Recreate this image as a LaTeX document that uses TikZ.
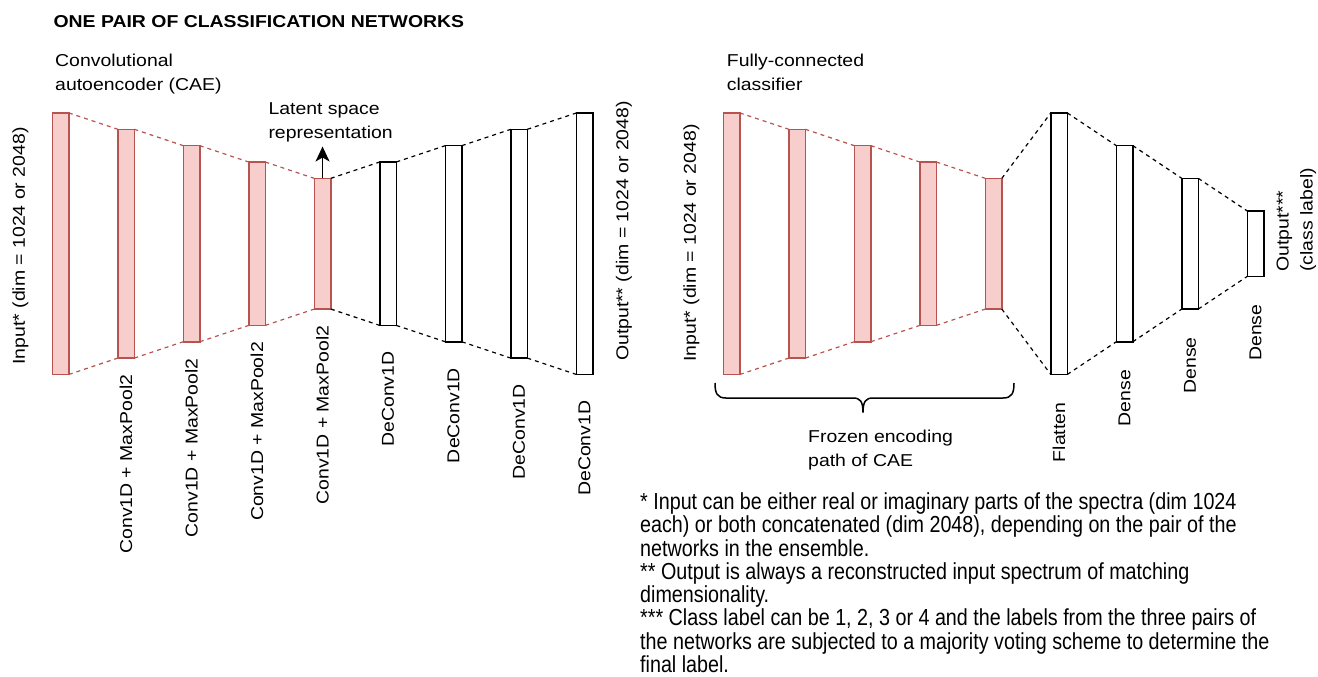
\documentclass[tikz,border=0pt]{standalone}
\usepackage{fontspec}
\setmainfont{Liberation Sans}[FakeStretch=1.13]
\newfontfamily\notefont{Liberation Sans}[FakeStretch=0.85]
\usetikzlibrary{arrows.meta}
\definecolor{encfill}{HTML}{F8CECC}
\definecolor{encline}{HTML}{B85450}
\newcommand\lbl{\fontsize{17.2}{24}\selectfont}
\newcommand\notesize{\fontsize{23.2}{23.3}\selectfont}
\tikzset{
  layer/.style={rectangle, draw=black, line width=1.5pt, minimum width=16.5pt,
    inner sep=0pt, outer sep=0pt, fill=white},
  enc/.style={layer, draw=encline, fill=encfill},
  link/.style={dash pattern=on 4pt off 4pt, line width=1.2pt},
  enclink/.style={link, draw=encline},
  declink/.style={link, draw=black},
  vlabel/.style={rotate=90, inner sep=0pt, font=\lbl},
  % multi-line captions are placed by the baseline of their last line
  txt/.style={inner sep=0pt, font=\lbl, align=left, anchor=base west},
}
\begin{document}
\begin{tikzpicture}[x=1pt,y=-1pt]
\useasboundingbox (0,0) rectangle (1318,677);

% title and group captions
\node[txt, font=\lbl\bfseries] (title) at (53.3,27.3) {ONE PAIR OF CLASSIFICATION NETWORKS};
\node[txt] (caecap) at (55,90.2) {Convolutional\\autoencoder (CAE)};
\node[txt] (fccap) at (726.7,90.7) {Fully-connected\\classifier};
\node[txt] (latcap) at (268.3,138.5) {Latent space\\representation};

% ---- convolutional autoencoder ----
\foreach \i/\h in {1/261.5,2/228.8,3/196.1,4/163.4,5/130.7}
  \node[enc, minimum height=\h pt] (e\i) at ({60.55+65.5*(\i-1)},243.7) {};
\foreach \i/\h in {1/163.4,2/196.1,3/228.8,4/261.5}
  \node[layer, minimum height=\h pt] (d\i) at ({388.05+65.5*(\i-1)},243.7) {};

\foreach \a/\b in {e1/e2,e2/e3,e3/e4,e4/e5} {
  \draw[enclink] (\a.north east) -- (\b.north west);
  \draw[enclink] (\a.south east) -- (\b.south west);
}
\foreach \a/\b in {e5/d1,d1/d2,d2/d3,d3/d4} {
  \draw[declink] (\a.north east) -- (\b.north west);
  \draw[declink] (\a.south east) -- (\b.south west);
}

\coordinate (lat) at (322.55,146.5);
\draw[line width=1.5pt, -{Stealth[length=15pt,width=14pt,inset=4pt]}] (e5.north) -- (lat);

\node[vlabel] (inA) at (20.5,246) {Input* (dim = 1024 or 2048)};
\node[vlabel] (outA) at (624,231) {Output** (dim = 1024 or 2048)};

\foreach \i in {2,3,4,5}
  \node[vlabel, anchor=east] (lc\i) at ([yshift=-16.5pt]e\i.south) {Conv1D + MaxPool2};
\foreach \i in {1,2,3,4}
  \node[vlabel, anchor=east] (ld\i) at ([yshift=-26pt]d\i.south) {DeConv1D};

% ---- fully-connected classifier ----
\foreach \i/\h in {1/261.5,2/228.8,3/196.1,4/163.4,5/130.7}
  \node[enc, minimum height=\h pt] (r\i) at ({731.55+65.5*(\i-1)},243.7) {};
\node[layer, minimum height=261.5pt] (fl) at (1059.05,243.7) {};
\node[layer, minimum height=196.1pt] (g1) at (1124.55,243.7) {};
\node[layer, minimum height=130.7pt] (g2) at (1190.05,243.7) {};
\node[layer, minimum height=65.4pt] (g3) at (1255.55,243.7) {};

\foreach \a/\b in {r1/r2,r2/r3,r3/r4,r4/r5} {
  \draw[enclink] (\a.north east) -- (\b.north west);
  \draw[enclink] (\a.south east) -- (\b.south west);
}
\foreach \a/\b in {r5/fl,fl/g1,g1/g2,g2/g3} {
  \draw[declink] (\a.north east) -- (\b.north west);
  \draw[declink] (\a.south east) -- (\b.south west);
}

\node[vlabel] (inB) at (691.5,243) {Input* (dim = 1024 or 2048)};
\node[vlabel, align=left] (outB) at (1296.5,220) {Output***\\(class label)};

\node[vlabel, anchor=east] (lfl) at ([yshift=-28pt]fl.south) {Flatten};
\foreach \n in {g1,g2,g3}
  \node[vlabel, anchor=east] (l\n) at ([yshift=-28pt]\n.south) {Dense};

% brace under the frozen encoder
\draw[line width=1.5pt]
  (715,383) .. controls (715,393) and (717,398) .. (726,398)
  -- (853,398) .. controls (860,398) and (863,401) .. (863,412.7)
  .. controls (863,401) and (866,398) .. (873,398)
  -- (1003,398) .. controls (1012,398) and (1014,393) .. (1014,383);
\node[txt] (frozen) at (808,466.7) {Frozen encoding\\path of CAE};

% footnotes
\node[inner sep=0pt, align=left, anchor=base west, font=\notefont\notesize] (notes) at (640,672.5)
  {* Input can be either real or imaginary parts of the spectra (dim 1024\\
   each) or both concatenated (dim 2048), depending on the pair of the\\
   networks in the ensemble.\\
   ** Output is always a reconstructed input spectrum of matching\\
   dimensionality.\\
   *** Class label can be 1, 2, 3 or 4 and the labels from the three pairs of\\
   the networks are subjected to a majority voting scheme to determine the\\
   final label.};
\end{tikzpicture}
\end{document}
